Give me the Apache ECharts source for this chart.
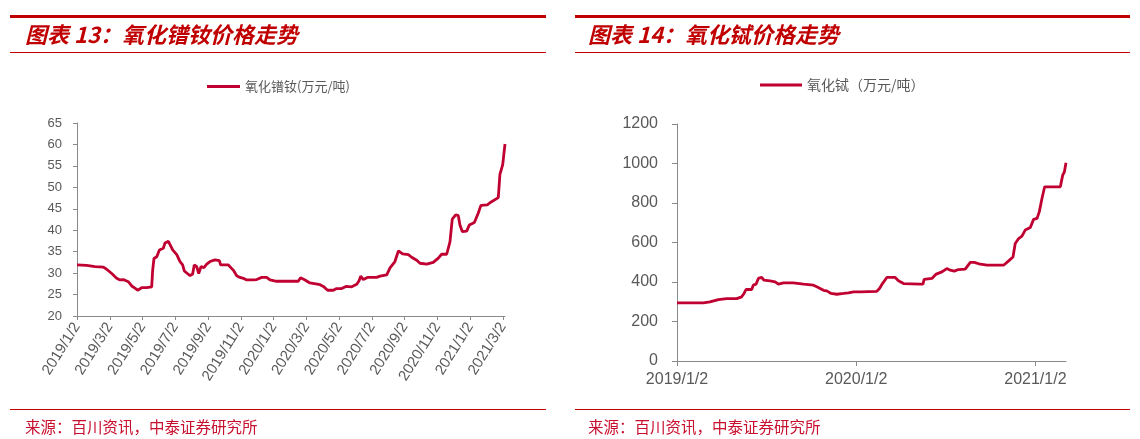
<!DOCTYPE html>
<html>
<head>
<meta charset="UTF-8">
<title>氧化镨钕 / 氧化铽价格走势</title>
<style type="text/css">
	html, body { margin: 0; padding: 0; background: #fff; }
	#main { width: 1140px; height: 439px; }
</style>
<script src="https://cdn.jsdelivr.net/npm/echarts@6/dist/echarts.min.js"></script>
</head>
<body>
<div id="main"></div>
<script>
	// 横轴用“自 2019/1/2 起的月数”，刻度每两个月一个
	var ndprTickMonths = [0, 2, 4, 6, 8, 10, 12, 14, 16, 18, 20, 22, 24, 26];
	var ndprTickLabels = ['2019/1/2', '2019/3/2', '2019/5/2', '2019/7/2', '2019/9/2', '2019/11/2', '2020/1/2',
		'2020/3/2', '2020/5/2', '2020/7/2', '2020/9/2', '2020/11/2', '2021/1/2', '2021/3/2'];

	// 氧化镨钕(万元/吨)
	var ndprMonth = [0, 0.59, 1.10, 1.61, 1.81, 2.12, 2.42, 2.63, 2.83, 3.13, 3.34, 3.54, 3.70, 3.95, 4.25, 4.56,
		4.62, 4.70, 4.87, 5.03, 5.27, 5.37, 5.58, 5.68, 5.84, 6.09, 6.29, 6.45, 6.55, 6.74, 6.90, 7.06, 7.16,
		7.31, 7.43, 7.57, 7.75, 7.92, 8.02, 8.12, 8.42, 8.69, 8.77, 9.24, 9.54, 9.75, 9.95, 10.21, 10.36, 10.76,
		10.97, 11.28, 11.58, 11.78, 12.19, 13.51, 13.65, 13.92, 14.22, 14.33, 14.84, 15.04, 15.30, 15.65, 15.85,
		16.16, 16.42, 16.77, 17.08, 17.22, 17.32, 17.48, 17.73, 18.30, 18.50, 18.91, 19.11, 19.41, 19.62, 19.88,
		20.23, 20.43, 20.74, 20.94, 21.35, 21.75, 22.06, 22.26, 22.57, 22.77, 22.91, 23.12, 23.28, 23.38, 23.52,
		23.79, 23.95, 24.26, 24.50, 24.66, 25.05, 25.21, 25.72, 25.82, 25.99, 26.13];
	var ndprPrice = [31.9, 31.8, 31.5, 31.4, 30.9, 29.9, 28.8, 28.4, 28.5, 28.0, 27.0, 26.5, 26.0, 26.6, 26.6, 26.8,
		30.7, 33.4, 33.8, 35.4, 35.8, 37.0, 37.4, 37.0, 35.4, 34.3, 32.7, 31.9, 30.5, 29.9, 29.4, 29.8, 31.9,
		31.5, 29.9, 31.5, 31.3, 32.1, 31.7, 32.7, 33.1, 32.9, 31.9, 31.9, 30.7, 29.4, 29.0, 28.7, 28.4, 28.4,
		28.5, 29.0, 29.0, 28.4, 28.1, 28.1, 28.9, 28.4, 27.7, 27.3, 27.3, 26.9, 26.0, 26.0, 26.4,
		26.4, 26.9, 26.8, 27.4, 28.2, 29.3, 28.5, 29.0, 29.0, 29.3, 29.6, 31.2, 32.7, 35.2, 34.5,
		34.3, 33.7, 33.0, 32.3, 32.1, 32.5, 33.5, 34.4, 34.4, 37.3, 42.6, 43.6, 43.4, 41.2, 39.7,
		39.8, 41.2, 41.8, 44.0, 45.8, 45.9, 46.4, 47.6, 53.0, 55.3, 60.1];

	var tbTickMonths = [0, 12, 24];
	var tbTickLabels = ['2019/1/2', '2020/1/2', '2021/1/2'];

	// 氧化铽（万元/吨）
	var tbMonth = [0, 1.76, 2.21, 2.77, 3.33, 4.00, 4.33, 4.49, 4.62, 5.00, 5.11, 5.29, 5.45, 5.67, 5.83, 6.23,
		6.57, 6.79, 7.13, 7.80, 8.47, 9.14, 9.36, 9.81, 10.03, 10.32, 10.70, 11.15, 11.48, 11.82, 12.27, 13.38,
		13.56, 13.76, 14.05, 14.61, 14.83, 15.17, 16.29, 16.47, 16.55, 17.07, 17.36, 17.74, 18.07, 18.30, 18.57,
		18.85, 19.30, 19.64, 19.91, 20.31, 20.76, 21.87, 22.21, 22.50, 22.65, 22.88, 23.10, 23.32, 23.66, 23.88,
		24.11, 24.26, 24.44, 24.62, 25.67, 25.83, 25.94, 26.05];
	var tbPrice = [294, 294, 299, 311, 316, 316, 325, 342, 362, 362, 384, 389, 418, 423, 409, 406,
		401, 389, 396, 396, 389, 384, 376, 358, 355, 342, 338, 342, 345, 350, 350, 353,
		367, 392, 423, 423, 406, 392, 389, 389, 413, 418, 440, 451, 468, 460, 455,
		463, 465, 499, 499, 490, 485, 485, 507, 527, 595, 620, 632, 663, 676, 717,
		722, 755, 823, 882, 882, 941, 957, 1004];

	var lineColor = '#c00030';
	var axisColor = '#898989';
	var labelColor = '#595959';
	var redText = '#c00000';
	var cjk = '"Noto Sans CJK SC", sans-serif';
	var latin = '"Liberation Sans", Arial, sans-serif';

	function pairs(xs, ys) {
		return xs.map(function(x, i) { return [x, ys[i]]; });
	}

	function tickLabel(months, labels) {
		return function(v) {
			var i = months.indexOf(Math.round(v));
			return i < 0 ? '' : labels[i];
		};
	}

	function sectionGraphics(x0, x1, titleX, title) {
		return [
			{ type: 'rect', shape: { x: x0, y: 15, width: x1 - x0, height: 3 }, style: { fill: redText } },
			{ type: 'rect', shape: { x: x0, y: 52, width: x1 - x0, height: 1 }, style: { fill: redText } },
			{ type: 'rect', shape: { x: x0, y: 409, width: x1 - x0, height: 1 }, style: { fill: redText } },
			{
				type: 'text', x: titleX, y: 35,
				style: { text: title, fill: redText, font: 'italic bold 22px ' + cjk, textVerticalAlign: 'middle' }
			},
			{
				type: 'text', x: titleX, y: 427,
				style: { text: '来源：百川资讯，中泰证券研究所', fill: '#c8102e', font: '15.5px ' + cjk, textVerticalAlign: 'middle' }
			}
		];
	}

	var chart = echarts.init(document.getElementById('main'));

	var option = {
		animation: false,
		backgroundColor: '#fff',
		graphic: sectionGraphics(10, 546, 25, '图表 13：氧化镨钕价格走势')
			.concat(sectionGraphics(575, 1130, 588, '图表 14：氧化铽价格走势')),
		legend: [{
			data: ['氧化镨钕(万元/吨)'],
			left: 202, top: 75,
			icon: 'rect', itemWidth: 33, itemHeight: 3,
			textStyle: { color: labelColor, fontSize: 13, fontFamily: cjk }
		}, {
			data: ['氧化铽（万元/吨）'],
			left: 755, top: 73,
			icon: 'rect', itemWidth: 42, itemHeight: 3,
			textStyle: { color: labelColor, fontSize: 14, fontFamily: cjk }
		}],
		grid: [
			{ left: 77, top: 123, width: 428, height: 193 },
			{ left: 677, top: 124, width: 389, height: 237 }
		],
		xAxis: [{
			gridIndex: 0, type: 'value', min: 0, max: 26.13,
			axisLine: { lineStyle: { color: axisColor } },
			axisTick: { show: true, length: 4, customValues: ndprTickMonths, lineStyle: { color: axisColor } },
			axisLabel: {
				customValues: ndprTickMonths, rotate: 58, margin: 8,
				color: labelColor, fontSize: 15, fontFamily: latin,
				formatter: tickLabel(ndprTickMonths, ndprTickLabels)
			},
			splitLine: { show: false }
		}, {
			gridIndex: 1, type: 'value', min: 0, max: 26.05,
			axisLine: { lineStyle: { color: axisColor } },
			axisTick: { show: true, length: 5, customValues: tbTickMonths, lineStyle: { color: axisColor } },
			axisLabel: {
				customValues: tbTickMonths, margin: 11,
				color: labelColor, fontSize: 16, fontFamily: latin,
				formatter: tickLabel(tbTickMonths, tbTickLabels)
			},
			splitLine: { show: false }
		}],
		yAxis: [{
			gridIndex: 0, type: 'value', min: 20, max: 65, interval: 5,
			axisLine: { show: true, lineStyle: { color: axisColor } },
			axisTick: { show: true, length: 4, lineStyle: { color: axisColor } },
			axisLabel: { margin: 15, color: labelColor, fontSize: 13, fontFamily: latin },
			splitLine: { show: false }
		}, {
			gridIndex: 1, type: 'value', min: 0, max: 1200, interval: 200,
			axisLine: { show: true, lineStyle: { color: axisColor } },
			axisTick: { show: true, length: 5, lineStyle: { color: axisColor } },
			axisLabel: {
				margin: 19, color: labelColor, fontSize: 16, fontFamily: latin,
				formatter: function(v) { return String(v); }
			},
			splitLine: { show: false }
		}],
		series: [{
			name: '氧化镨钕(万元/吨)',
			type: 'line', xAxisIndex: 0, yAxisIndex: 0,
			showSymbol: false,
			lineStyle: { color: lineColor, width: 2.8 },
			itemStyle: { color: lineColor },
			data: pairs(ndprMonth, ndprPrice)
		}, {
			name: '氧化铽（万元/吨）',
			type: 'line', xAxisIndex: 1, yAxisIndex: 1,
			showSymbol: false,
			lineStyle: { color: lineColor, width: 2.8 },
			itemStyle: { color: lineColor },
			data: pairs(tbMonth, tbPrice)
		}]
	};

	chart.setOption(option);
</script>
</body>
</html>
